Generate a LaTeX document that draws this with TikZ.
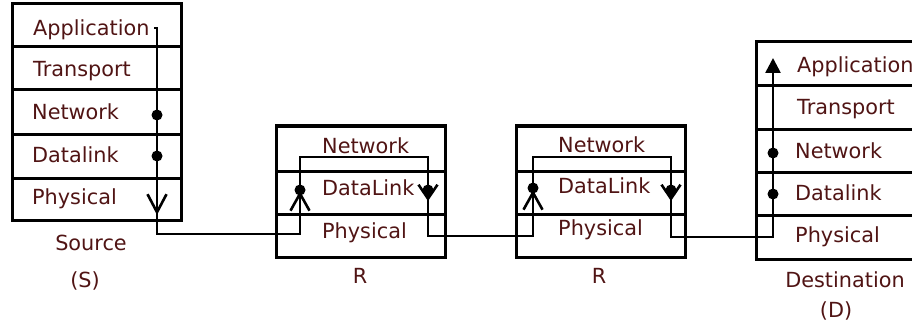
\documentclass[tikz,border=0pt]{standalone}
\usepackage{fontspec}
\setmainfont{DejaVu Sans}
\usetikzlibrary{arrows.meta}
\definecolor{txt}{RGB}{80,20,20}
\begin{document}
\begin{tikzpicture}[x=1pt,y=-1pt,
 layer/.style={draw,line width=3pt,anchor=north west,inner sep=0pt,outer sep=0pt},
 lbl/.style={text=txt,font=\fontsize{20.8}{24}\selectfont,inner sep=0pt,anchor=base west},
 clbl/.style={text=txt,font=\fontsize{20.8}{24}\selectfont,inner sep=0pt,anchor=base},
 wire/.style={line width=2.6pt},
 dot/.style={circle,fill,inner sep=0pt,minimum size=11pt},
 openhead/.style={line width=2.6pt,-{Straight Barb[length=#1,width=19pt,line width=2.6pt]}},
 filledhead/.style={line width=2.6pt,-{Triangle[length=15pt,width=15pt]}}]
\useasboundingbox (0,0) rectangle (912,326);
\clip (0,0) rectangle (912,326);
% Source stack
\node[layer,minimum width=169pt,minimum height=43pt] (sA) at (12,4) {};
\node[layer,minimum width=169pt,minimum height=43pt] (sT) at (12,47) {};
\node[layer,minimum width=169pt,minimum height=44pt] (sN) at (12,90) {};
\node[layer,minimum width=169pt,minimum height=44pt] (sD) at (12,134) {};
\node[layer,minimum width=169pt,minimum height=42pt] (sP) at (12,178) {};
\node[lbl] (tsA) at (33,36) {Application};
\node[lbl] (tsT) at (33,77) {Transport};
\node[lbl] (tsN) at (32,120) {Network};
\node[lbl] (tsD) at (32,162) {Datalink};
\node[lbl] (tsP) at (32,204) {Physical};
\node[clbl] (src) at (91,250) {Source};
\node[clbl] (srcS) at (85,287) {(S)};
% Router 1
\node[layer,minimum width=169pt,minimum height=45pt] (r1N) at (276,126) {};
\node[layer,minimum width=169pt,minimum height=43pt] (r1D) at (276,171) {};
\node[layer,minimum width=169pt,minimum height=43pt] (r1P) at (276,214) {};
\node[lbl] (tr1N) at (322,153) {Network};
\node[lbl] (tr1D) at (322,195) {DataLink};
\node[lbl] (tr1P) at (322,238) {Physical};
\node[clbl] (r1) at (360,283) {R};
% Router 2
\node[layer,minimum width=169pt,minimum height=45pt] (r2N) at (516,126) {};
\node[layer,minimum width=169pt,minimum height=43pt] (r2D) at (516,171) {};
\node[layer,minimum width=169pt,minimum height=43pt] (r2P) at (516,214) {};
\node[lbl] (tr2N) at (558,152) {Network};
\node[lbl] (tr2D) at (558,193) {DataLink};
\node[lbl] (tr2P) at (558,235) {Physical};
\node[clbl] (r2) at (599,283) {R};
% Destination
\node[layer,minimum width=200pt,minimum height=44pt] (dA) at (756,42) {};
\node[layer,minimum width=200pt,minimum height=43pt] (dT) at (756,86) {};
\node[layer,minimum width=200pt,minimum height=43pt] (dN) at (756,129) {};
\node[layer,minimum width=200pt,minimum height=43pt] (dD) at (756,172) {};
\node[layer,minimum width=200pt,minimum height=44pt] (dP) at (756,215) {};
\node[lbl] (tdA) at (797,73) {Application};
\node[lbl] (tdT) at (797,115) {Transport};
\node[lbl] (tdN) at (795,158) {Network};
\node[lbl] (tdD) at (795,200) {Datalink};
\node[lbl] (tdP) at (795,242) {Physical};
\node[clbl] (dst) at (845,287) {Destination};
\node[clbl] (dstD) at (836,317) {(D)};
% path coordinates
\coordinate (p0) at (154,28);
\coordinate (p1) at (157,28);
\coordinate (p2) at (157,234);
\node[dot] (sdN) at (157,115) {};
\node[dot] (sdD) at (157,156) {};
\coordinate (sa1) at (157,196);
\coordinate (sa2) at (157,215);
\coordinate (q1) at (300,234);
\coordinate (q2) at (300,157);
\coordinate (q3) at (428,157);
\coordinate (q4) at (428,236);
\node[dot] (r1dl) at (300,190) {};
\node[dot] (r1dr) at (428,190) {};
\coordinate (ra1) at (300,208);
\coordinate (ra2) at (300,191);
\coordinate (rb1) at (428,187);
\coordinate (rb2) at (428,201);
\coordinate (u1) at (533,236);
\coordinate (u2) at (533,157);
\coordinate (u3) at (671,157);
\coordinate (u4) at (671,237);
\node[dot] (r2dl) at (533,188) {};
\node[dot] (r2dr) at (671,190) {};
\coordinate (ua1) at (533,207);
\coordinate (ua2) at (533,190);
\coordinate (ub1) at (671,187);
\coordinate (ub2) at (671,201);
\coordinate (v1) at (773,237);
\coordinate (v2) at (773,58);
\node[dot] (ddN) at (773,153) {};
\node[dot] (ddD) at (773,194) {};
% wires
\draw[wire] (p0) -- (p1) -- (p2) -- (q1) -- (q2) -- (q3) -- (q4) -- (u1) -- (u2) -- (u3) -- (u4) -- (v1) -- (773,73);
\draw[filledhead] (773,80) -- (v2);
\draw[openhead=18pt] (sa1) -- (sa2);
\draw[openhead=17pt] (ra1) -- (ra2);
\draw[openhead=14pt] (rb1) -- (rb2);
\draw[openhead=17pt] (ua1) -- (ua2);
\draw[openhead=14pt] (ub1) -- (ub2);
\end{tikzpicture}
\end{document}
